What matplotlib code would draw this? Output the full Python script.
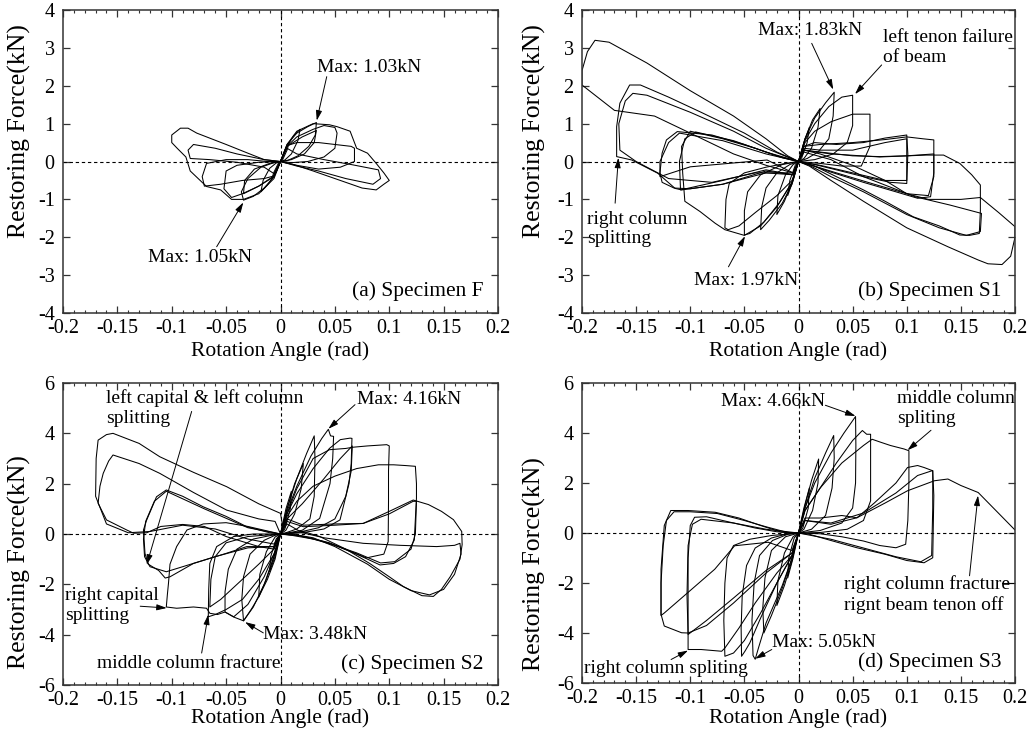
import matplotlib.pyplot as plt
from matplotlib.ticker import MultipleLocator, FuncFormatter

plt.rcParams['font.family'] = ['Liberation Serif', 'DejaVu Serif']
plt.rcParams['axes.unicode_minus'] = False

# ------------------------------------------------
# hysteresis loops: (rotation angle rad, restoring force kN)
# ------------------------------------------------
loops_F = [
    [(0, 0), (0.004, 0.3), (0.008, 0.5), (0.006, 0.3), (0.002, 0.05), (0, 0), (-0.004, -0.28), (-0.008, -0.45), (-0.006, -0.28), (-0.002, -0.05), (0, 0)],
    [(0, 0), (0.006, 0.4), (0.012, 0.68), (0.018, 0.85), (0.016, 0.55), (0.01, 0.2), (0.004, 0.04), (0, 0), (-0.006, -0.38), (-0.012, -0.62), (-0.018, -0.8), (-0.016, -0.5), (-0.01, -0.18), (-0.004, -0.04), (0, 0)],
    [(0, 0), (0.006, 0.45), (0.015, 0.75), (0.025, 0.92), (0.033, 1.03), (0.032, 0.7), (0.026, 0.4), (0.016, 0.15), (0.006, 0.02), (0, 0), (-0.006, -0.4), (-0.015, -0.7), (-0.025, -0.92), (-0.034, -1.02), (-0.036, -0.8), (-0.03, -0.45), (-0.018, -0.15), (-0.006, -0.03), (0, 0)],
    [(0, 0), (0.006, 0.4), (0.02, 0.65), (0.033, 0.82), (0.031, 0.5), (0.022, 0.2), (0.01, 0.05), (0, 0), (-0.006, -0.4), (-0.02, -0.65), (-0.034, -0.85), (-0.033, -0.5), (-0.024, -0.2), (-0.01, -0.05), (0, 0)],
    [(0, 0), (0.006, 0.4), (0.015, 0.65), (0.03, 0.85), (0.04, 0.95), (0.05, 0.9), (0.052, 0.75), (0.05, 0.35), (0.04, 0.12), (0.025, 0.0), (0.01, -0.03), (0, 0), (-0.006, -0.38), (-0.02, -0.65), (-0.035, -0.85), (-0.045, -0.95), (-0.052, -0.72), (-0.05, -0.25), (-0.04, -0.1), (-0.02, -0.02), (0, 0)],
    [(0, 0), (0.006, 0.42), (0.015, 0.5), (0.035, 0.5), (0.05, 0.45), (0.065, 0.4), (0.068, 0.35), (0.068, 0.0), (0.055, -0.15), (0.035, -0.2), (0.015, -0.1), (0, 0), (-0.006, -0.38), (-0.015, -0.45), (-0.035, -0.5), (-0.055, -0.6), (-0.07, -0.65), (-0.072, -0.4), (-0.068, -0.05), (-0.05, 0.05), (-0.03, 0.05), (-0.012, 0.0), (0, 0)],
    [(0, 0), (0.006, 0.35), (0.015, 0.2), (0.04, 0.05), (0.065, -0.08), (0.09, -0.22), (0.092, -0.45), (0.085, -0.6), (0.06, -0.45), (0.035, -0.25), (0.015, -0.12), (0, 0), (-0.006, -0.32), (-0.015, -0.15), (-0.04, -0.02), (-0.065, 0.05), (-0.083, 0.08), (-0.085, 0.3), (-0.08, 0.45), (-0.06, 0.35), (-0.04, 0.2), (-0.015, 0.05), (0, 0)],
    [(0, 0), (0.006, 0.45), (0.015, 0.8), (0.03, 1.0), (0.045, 0.97), (0.052, 0.92), (0.064, 0.8), (0.068, 0.5), (0.07, 0.35), (0.08, 0.22), (0.088, -0.05), (0.095, -0.3), (0.1, -0.5), (0.095, -0.6), (0.088, -0.75), (0.075, -0.7), (0.055, -0.5), (0.03, -0.25), (0.012, -0.08), (0, 0), (-0.006, -0.45), (-0.02, -0.85), (-0.034, -1.0), (-0.045, -1.0), (-0.055, -0.75), (-0.068, -0.66), (-0.083, -0.25), (-0.087, 0.12), (-0.095, 0.35), (-0.1, 0.5), (-0.1, 0.7), (-0.092, 0.88), (-0.085, 0.88), (-0.077, 0.75), (-0.05, 0.45), (-0.03, 0.22), (-0.015, 0.05), (0, 0)],
]

loops_S1 = [
    [(0, 0), (0.005, 0.5), (0.01, 0.9), (0.008, 0.5), (0.003, 0.1), (0, 0), (-0.005, -0.5), (-0.01, -0.9), (-0.008, -0.5), (-0.003, -0.1), (0, 0)],
    [(0, 0), (0.006, 0.6), (0.013, 1.1), (0.02, 1.4), (0.018, 0.9), (0.012, 0.35), (0.005, 0.08), (0, 0), (-0.006, -0.55), (-0.013, -1.05), (-0.02, -1.4), (-0.019, -0.9), (-0.012, -0.35), (-0.005, -0.08), (0, 0)],
    [(0, 0), (0.006, 0.6), (0.015, 1.15), (0.025, 1.55), (0.033, 1.83), (0.032, 1.2), (0.028, 0.6), (0.018, 0.25), (0.008, 0.08), (0, 0), (-0.006, -0.6), (-0.015, -1.1), (-0.027, -1.55), (-0.035, -1.8), (-0.034, -1.2), (-0.03, -0.7), (-0.02, -0.3), (-0.008, -0.08), (0, 0)],
    [(0, 0), (0.006, 0.55), (0.015, 1.0), (0.028, 1.45), (0.04, 1.7), (0.05, 1.75), (0.05, 0.95), (0.045, 0.5), (0.032, 0.2), (0.015, 0.05), (0, 0), (-0.006, -0.55), (-0.018, -1.1), (-0.032, -1.6), (-0.045, -1.9), (-0.05, -1.94), (-0.05, -1.3), (-0.047, -0.8), (-0.035, -0.35), (-0.015, -0.08), (0, 0)],
    [(0, 0), (0.006, 0.5), (0.015, 0.8), (0.03, 1.05), (0.05, 1.25), (0.066, 1.25), (0.066, 0.4), (0.058, -0.12), (0.04, -0.12), (0.02, -0.05), (0, 0), (-0.006, -0.5), (-0.02, -0.9), (-0.04, -1.35), (-0.055, -1.7), (-0.065, -1.8), (-0.068, -1.75), (-0.067, -1.0), (-0.064, -0.58), (-0.05, -0.3), (-0.03, -0.15), (-0.012, -0.05), (0, 0)],
    [(0, 0), (0.005, 0.4), (0.015, 0.5), (0.035, 0.45), (0.06, 0.5), (0.08, 0.62), (0.1, 0.7), (0.101, 0.2), (0.1, -0.58), (0.085, -0.55), (0.06, -0.4), (0.035, -0.22), (0.015, -0.08), (0, 0), (-0.006, -0.55), (-0.02, -1.2), (-0.035, -1.7), (-0.05, -1.95), (-0.068, -1.8), (-0.077, -1.63), (-0.091, -1.32), (-0.105, -1.05), (-0.107, -0.3), (-0.108, 0.4), (-0.1, 0.8), (-0.07, 0.6), (-0.04, 0.35), (-0.015, 0.1), (0, 0)],
    [(0, 0), (0.005, 0.35), (0.02, 0.3), (0.05, 0.3), (0.08, 0.5), (0.1, 0.6), (0.1, -0.5), (0.08, -0.5), (0.05, -0.3), (0.02, -0.1), (0, 0), (-0.005, -0.35), (-0.03, -0.22), (-0.07, -0.5), (-0.109, -0.75), (-0.11, 0.0), (-0.105, 0.6), (-0.095, 0.78), (-0.06, 0.55), (-0.03, 0.25), (0, 0)],
    [(0, 0), (0.005, 0.4), (0.02, 0.45), (0.05, 0.5), (0.08, 0.58), (0.1, 0.65), (0.115, 0.6), (0.125, 0.57), (0.125, -0.3), (0.122, -0.93), (0.11, -0.97), (0.09, -0.8), (0.06, -0.55), (0.03, -0.28), (0.01, -0.08), (0, 0), (-0.005, -0.35), (-0.03, -0.25), (-0.07, -0.6), (-0.1, -0.72), (-0.115, -0.7), (-0.126, -0.55), (-0.128, -0.3), (-0.126, 0.22), (-0.122, 0.57), (-0.112, 0.79), (-0.08, 0.7), (-0.05, 0.45), (-0.02, 0.15), (0, 0)],
    [(0, 0), (0.005, 0.3), (0.02, 0.25), (0.05, 0.15), (0.075, 0.13), (0.1, 0.15), (0.125, 0.2), (0.125, -0.4), (0.12, -0.9), (0.1, -0.85), (0.07, -0.6), (0.035, -0.3), (0.01, -0.08), (0, 0), (-0.005, -0.3), (-0.029, 0.04), (-0.1, -0.14), (-0.128, -0.4), (-0.128, 0.0), (-0.12, 0.5), (-0.11, 0.75), (-0.07, 0.55), (-0.03, 0.2), (0, 0)],
    [(0, 0), (0.005, 0.3), (0.03, 0.2), (0.075, 0.12), (0.118, 0.17), (0.134, 0.17), (0.149, -0.05), (0.16, -0.35), (0.168, -0.62), (0.168, -1.3), (0.167, -1.9), (0.158, -1.95), (0.149, -1.94), (0.13, -1.7), (0.106, -1.46), (0.08, -1.05), (0.06, -0.75), (0.035, -0.4), (0.015, -0.12), (0, 0), (-0.005, -0.35), (-0.03, -0.3), (-0.07, -0.6), (-0.108, -0.75), (-0.114, -0.71), (-0.13, -0.31), (-0.154, 0.04), (-0.168, 0.13), (-0.168, 0.92), (-0.165, 1.54), (-0.156, 2.02), (-0.146, 2.02), (-0.12, 1.7), (-0.09, 1.3), (-0.05, 0.75), (-0.02, 0.25), (0, 0)],
    [(0, 0), (0.005, 0.3), (0.02, 0.2), (0.05, -0.1), (0.08, -0.5), (0.1, -0.85), (0.12, -1.0), (0.15, -1.0), (0.168, -0.95), (0.185, -1.35), (0.2, -1.72), (0.2, -2.0), (0.196, -2.5), (0.188, -2.72), (0.175, -2.7), (0.166, -2.6), (0.138, -2.25), (0.1, -1.75), (0.06, -1.05), (0.03, -0.5), (0.01, -0.12), (0, 0), (-0.005, -0.3), (-0.03, -0.1), (-0.06, 0.2), (-0.1, 0.75), (-0.133, 1.2), (-0.17, 1.35), (-0.2, 2.02), (-0.2, 2.4), (-0.195, 2.9), (-0.188, 3.2), (-0.175, 3.15), (-0.14, 2.6), (-0.1, 1.87), (-0.06, 1.2), (-0.03, 0.6), (-0.01, 0.15), (0, 0)],
    [(0, 0), (0.005, 0.25), (0.03, 0.05), (0.06, -0.4), (0.1076, -0.93), (0.14, -1.15), (0.169, -1.37), (0.168, -1.85), (0.155, -1.95), (0.13, -1.75), (0.1, -1.4), (0.06, -0.8), (0.03, -0.4), (0.01, -0.1), (0, 0), (-0.005, -0.3), (-0.04, -0.3), (-0.08, -0.55), (-0.12, -0.45), (-0.15, 0.0), (-0.165, 0.3), (-0.166, 1.0), (-0.16, 1.6), (-0.153, 1.8), (-0.14, 1.75), (-0.1, 1.3), (-0.06, 0.8), (-0.03, 0.35), (0, 0)],
]

loops_S2 = [
    [(0, 0), (0.005, 1.0), (0.01, 1.7), (0.009, 1.0), (0.004, 0.2), (0, 0), (-0.005, -0.9), (-0.01, -1.5), (-0.009, -0.9), (-0.004, -0.2), (0, 0)],
    [(0, 0), (0.006, 1.0), (0.013, 2.0), (0.021, 2.8), (0.019, 1.8), (0.013, 0.8), (0.005, 0.15), (0, 0), (-0.006, -0.9), (-0.013, -1.8), (-0.02, -2.5), (-0.019, -1.6), (-0.013, -0.7), (-0.005, -0.12), (0, 0)],
    [(0, 0), (0.006, 1.0), (0.015, 2.2), (0.024, 3.2), (0.031, 3.9), (0.0317, 3.0), (0.031, 1.5), (0.027, 0.6), (0.015, 0.2), (0.005, 0.05), (0, 0), (-0.006, -0.9), (-0.015, -2.0), (-0.025, -2.9), (-0.034, -3.45), (-0.0356, -2.6), (-0.034, -1.7), (-0.028, -0.8), (-0.015, -0.25), (-0.005, -0.05), (0, 0)],
    [(0, 0), (0.006, 0.9), (0.015, 1.9), (0.028, 3.1), (0.038, 3.8), (0.044, 4.16), (0.046, 3.9), (0.0488, 3.88), (0.048, 3.0), (0.0455, 2.0), (0.036, 0.62), (0.02, 0.15), (0.005, 0.03), (0, 0), (-0.006, -0.8), (-0.015, -1.7), (-0.03, -2.8), (-0.043, -3.29), (-0.051, -3.1), (-0.051, -2.3), (-0.048, -1.4), (-0.04, -0.6), (-0.025, -0.2), (-0.008, -0.05), (0, 0)],
    [(0, 0), (0.006, 0.8), (0.015, 1.6), (0.03, 2.6), (0.045, 3.4), (0.055, 3.75), (0.064, 3.81), (0.0657, 3.8), (0.065, 2.8), (0.063, 2.0), (0.0547, 0.56), (0.04, 0.2), (0.02, 0.05), (0, 0), (-0.006, -0.8), (-0.02, -1.8), (-0.035, -2.6), (-0.05, -3.0), (-0.06, -3.2), (-0.0664, -3.29), (-0.066, -2.2), (-0.065, -1.17), (-0.0587, -0.5), (-0.043, -0.1), (-0.025, 0.0), (-0.01, 0.0), (0, 0)],
    [(0, 0), (0.006, 0.6), (0.02, 1.2), (0.04, 2.2), (0.055, 3.0), (0.066, 3.5), (0.065, 2.5), (0.06, 1.5), (0.05, 0.6), (0.035, 0.25), (0.015, 0.05), (0, 0), (-0.006, -0.6), (-0.02, -1.2), (-0.04, -2.0), (-0.055, -2.6), (-0.065, -2.9), (-0.064, -1.8), (-0.06, -0.9), (-0.05, -0.35), (-0.03, -0.1), (0, 0)],
    [(0, 0), (0.006, 0.8), (0.015, 1.8), (0.03, 3.0), (0.045, 3.35), (0.06, 3.4), (0.067, 3.45), (0.08, 3.5), (0.0977, 3.55), (0.1, 3.5), (0.0993, 2.5), (0.0993, 1.3), (0.099, -0.3), (0.095, -0.8), (0.079, -0.95), (0.065, -0.7), (0.045, -0.35), (0.02, -0.08), (0, 0), (-0.005, -1.0), (-0.012, -1.8), (-0.02, -2.5), (-0.027, -3.0), (-0.034, -3.45), (-0.043, -3.3), (-0.051, -3.1), (-0.058, -3.2), (-0.065, -3.15), (-0.068, -2.95), (-0.08, -2.9), (-0.0955, -2.95), (-0.105, -2.9), (-0.104, -2.4), (-0.103, -1.96), (-0.1016, -1.2), (-0.0955, -0.5), (-0.086, 0.16), (-0.071, 0.4), (-0.05, 0.45), (-0.03, 0.3), (-0.01, 0.1), (0, 0)],
    [(0, 0), (0.006, 0.7), (0.015, 1.3), (0.03, 1.9), (0.05, 2.3), (0.07, 2.6), (0.09, 2.75), (0.104, 2.75), (0.115, 2.72), (0.124, 2.69), (0.125, 2.0), (0.125, 1.43), (0.123, -0.24), (0.115, -0.9), (0.104, -1.17), (0.0915, -1.23), (0.07, -0.8), (0.05, -0.45), (0.03, -0.2), (0.01, -0.05), (0, 0), (-0.006, -0.5), (-0.031, -0.5), (-0.05, -0.77), (-0.08, -1.17), (-0.1016, -1.7), (-0.106, -1.75), (-0.112, -1.45), (-0.1216, -1.2), (-0.1246, -0.77), (-0.126, 0.16), (-0.123, 0.56), (-0.114, 1.48), (-0.105, 1.75), (-0.09, 1.5), (-0.071, 1.08), (-0.05, 0.7), (-0.031, 0.29), (-0.01, 0.05), (0, 0)],
    [(0, 0), (0.006, 0.5), (0.021, 0.29), (0.05, 0.35), (0.076, 0.42), (0.1, 0.8), (0.122, 1.3), (0.125, 1.3), (0.124, 0.0), (0.12, -0.6), (0.105, -1.1), (0.092, -1.15), (0.07, -0.75), (0.04, -0.3), (0.015, -0.05), (0, 0), (-0.006, -0.5), (-0.03, -0.55), (-0.06, -0.9), (-0.09, -1.3), (-0.105, -1.5), (-0.12, -1.3), (-0.125, -0.9), (-0.126, -0.2), (-0.124, 0.5), (-0.116, 1.3), (-0.105, 1.7), (-0.07, 1.0), (-0.03, 0.25), (0, 0)],
    [(0, 0), (0.006, 0.6), (0.021, 0.35), (0.05, 0.4), (0.076, 0.42), (0.1, 0.9), (0.122, 1.35), (0.136, 1.17), (0.148, 0.9), (0.159, 0.57), (0.1666, 0.1), (0.167, -0.42), (0.165, -1.0), (0.156, -1.7), (0.148, -2.2), (0.1405, -2.48), (0.13, -2.45), (0.113, -2.09), (0.1, -1.7), (0.082, -1.17), (0.06, -0.6), (0.036, -0.1), (0.021, 0.1), (0, 0), (-0.006, -0.6), (-0.02, -0.5), (-0.05, -0.1), (-0.07, 0.3), (-0.09, 0.38), (-0.11, 0.3), (-0.123, 0.05), (-0.135, 0.03), (-0.1414, 0.16), (-0.16, 0.56), (-0.1677, 1.22), (-0.166, 1.9), (-0.163, 2.41), (-0.158, 2.9), (-0.154, 3.14), (-0.13, 2.8), (-0.111, 2.41), (-0.08, 1.65), (-0.0495, 0.95), (-0.02, 0.6), (-0.005, 0.5), (0, 0)],
    [(0, 0), (0.006, 0.4), (0.02, 0.05), (0.04, -0.15), (0.076, -0.37), (0.11, -0.45), (0.1436, -0.5), (0.16, -0.45), (0.165, -0.37), (0.166, -0.8), (0.16, -1.6), (0.15, -2.2), (0.137, -2.42), (0.12, -2.25), (0.1, -1.8), (0.08, -1.2), (0.05, -0.5), (0.03, -0.15), (0.01, 0.0), (0, 0), (-0.006, -0.4), (-0.03, -0.2), (-0.06, 0.2), (-0.09, 0.35), (-0.12, 0.1), (-0.14, 0.05), (-0.16, 0.4), (-0.17, 1.5), (-0.1695, 3.0), (-0.1677, 3.73), (-0.16, 3.95), (-0.154, 4.0), (-0.13, 3.6), (-0.111, 3.07), (-0.08, 2.45), (-0.0495, 1.88), (-0.02, 1.2), (0, 0.82), (0.002, 0.3), (0, 0)],
]

loops_S3 = [
    [(0, 0), (0.005, 1.0), (0.01, 1.8), (0.009, 1.0), (0.004, 0.2), (0, 0), (-0.005, -1.0), (-0.01, -1.8), (-0.009, -1.0), (-0.004, -0.2), (0, 0)],
    [(0, 0), (0.006, 1.1), (0.012, 2.1), (0.0186, 2.96), (0.018, 2.0), (0.013, 0.9), (0.005, 0.15), (0, 0), (-0.006, -1.1), (-0.013, -2.1), (-0.02, -2.9), (-0.019, -1.9), (-0.013, -0.8), (-0.005, -0.15), (0, 0)],
    [(0, 0), (0.006, 1.0), (0.015, 2.2), (0.025, 3.2), (0.0325, 3.9), (0.033, 3.0), (0.031, 1.8), (0.025, 0.7), (0.012, 0.15), (0, 0), (-0.006, -1.0), (-0.015, -2.2), (-0.025, -3.3), (-0.032, -4.0), (-0.033, -3.0), (-0.031, -1.8), (-0.025, -0.7), (-0.012, -0.15), (0, 0)],
    [(0, 0), (0.006, 1.0), (0.015, 2.0), (0.03, 3.2), (0.042, 4.0), (0.0527, 4.66), (0.053, 3.5), (0.0527, 2.0), (0.05, 1.0), (0.04, 0.4), (0.02, 0.1), (0, 0), (-0.006, -1.0), (-0.015, -2.1), (-0.03, -3.6), (-0.037, -4.6), (-0.04, -5.05), (-0.042, -4.9), (-0.043, -3.5), (-0.041, -2.0), (-0.036, -0.9), (-0.024, -0.3), (-0.01, -0.05), (0, 0)],
    [(0, 0), (0.006, 0.9), (0.02, 1.8), (0.035, 2.8), (0.05, 3.7), (0.059, 4.1), (0.063, 3.95), (0.0666, 3.95), (0.0666, 2.5), (0.0666, 1.29), (0.06, 0.5), (0.045, 0.15), (0.02, 0.02), (0, 0), (-0.006, -0.9), (-0.02, -2.0), (-0.035, -3.4), (-0.045, -4.4), (-0.0495, -4.73), (-0.0526, -4.93), (-0.053, -3.8), (-0.052, -2.5), (-0.048, -1.3), (-0.04, -0.6), (-0.025, -0.2), (-0.01, -0.03), (0, 0)],
    [(0, 0), (0.006, 0.9), (0.02, 1.8), (0.04, 2.8), (0.06, 3.5), (0.068, 3.75), (0.076, 3.63), (0.085, 3.5), (0.0976, 3.36), (0.102, 3.29), (0.102, 2.0), (0.101, 0.5), (0.099, -0.45), (0.09, -0.59), (0.075, -0.5), (0.06, -0.32), (0.04, -0.15), (0.02, -0.03), (0, 0), (-0.006, -0.9), (-0.02, -2.0), (-0.035, -3.2), (-0.05, -4.3), (-0.06, -4.8), (-0.068, -4.93), (-0.069, -3.5), (-0.068, -2.0), (-0.066, -1.0), (-0.06, -0.5), (-0.045, -0.25), (-0.025, -0.1), (0, 0)],
    [(0, 0), (0.006, 0.6), (0.02, 0.6), (0.04, 0.7), (0.054, 0.61), (0.07, 1.2), (0.09, 2.0), (0.1007, 2.62), (0.11, 2.7), (0.116, 2.62), (0.124, 2.49), (0.125, 1.5), (0.124, -0.99), (0.116, -1.19), (0.1, -1.1), (0.08, -0.85), (0.054, -0.59), (0.03, -0.3), (0.01, -0.05), (0, 0), (-0.006, -0.9), (-0.02, -1.6), (-0.04, -2.8), (-0.055, -3.8), (-0.068, -4.6), (-0.071, -4.73), (-0.09, -4.66), (-0.102, -4.66), (-0.102, -3.0), (-0.102, -1.0), (-0.1, 0.3), (-0.096, 0.63), (-0.085, 0.65), (-0.065, 0.45), (-0.04, 0.2), (-0.02, 0.05), (0, 0)],
    [(0, 0), (0.006, 0.5), (0.03, 0.4), (0.06, 0.8), (0.09, 1.6), (0.11, 2.3), (0.124, 2.5), (0.124, 1.0), (0.123, -0.9), (0.113, -1.15), (0.09, -0.95), (0.06, -0.6), (0.03, -0.25), (0, 0), (-0.006, -0.8), (-0.03, -1.5), (-0.06, -2.6), (-0.085, -3.5), (-0.102, -4.06), (-0.103, -2.5), (-0.102, -0.5), (-0.098, 0.35), (-0.09, 0.55), (-0.06, 0.4), (-0.03, 0.15), (0, 0)],
    [(0, 0), (-0.006, -0.8), (-0.03, -1.6), (-0.06, -2.8), (-0.085, -3.7), (-0.102, -4.0), (-0.108, -3.99), (-0.124, -3.72), (-0.127, -3.25), (-0.127, -1.45), (-0.124, 0.3), (-0.118, 0.9), (-0.102, 0.9), (-0.077, 0.83), (-0.055, 0.6), (-0.035, 0.3), (-0.0154, 0.03), (0, 0), (0.006, 0.5), (0.03, 0.35), (0.054, 0.61), (0.08, 1.2), (0.1007, 1.69), (0.1255, 2.09), (0.138, 2.16), (0.15, 1.9), (0.166, 1.62), (0.2, 0.12)],
    [(0, 0), (-0.006, -0.7), (-0.028, -0.37), (-0.059, -0.51), (-0.0774, -1.45), (-0.1, -2.3), (-0.124, -3.2), (-0.127, -3.3), (-0.127, -2.0), (-0.125, -0.5), (-0.122, 0.5), (-0.115, 0.85), (-0.1, 0.85), (-0.075, 0.78), (-0.05, 0.5), (-0.03, 0.25), (-0.01, 0.02), (0, 0)],
]

panel_loops = [loops_F, loops_S1, loops_S2, loops_S3]
panel_names = ['(a) Specimen F', '(b) Specimen S1', '(c) Specimen S2', '(d) Specimen S3']
panel_ylim = [4, 4, 6, 6]
panel_ystep = [1, 1, 2, 2]

# annotations: text, text anchor (left, centre), arrow tail, arrow tip
notes_F = [
    ('Max: 1.03kN', (0.0333, 2.49), (0.0425, 2.24), (0.0333, 1.08)),
    ('Max: 1.05kN', (-0.1216, -2.53), (-0.0587, -2.25), (-0.0342, -1.08)),
]
notes_S1 = [
    ('Max: 1.83kN', (-0.037, 3.45), (0.0122, 3.12), (0.0321, 1.9)),
    ('left tenon failure\nof beam', (0.0783, 3.01), (0.0768, 2.55), (0.0522, 1.78)),
    ('right column\nsplitting', (-0.1956, -1.78), (-0.1694, -1.1), (-0.1664, 0.1)),
    ('Max: 1.97kN', (-0.097, -3.13), (-0.0647, -2.78), (-0.0494, -1.97)),
]
notes_S2 = [
    ('left capital & left column\nsplitting', (-0.1605, 5.0), (-0.0817, 4.87), (-0.123, -1.22)),
    ('Max: 4.16kN', (0.07, 5.34), (0.0685, 5.14), (0.044, 4.18)),
    ('right capital\nsplitting', (-0.1982, -2.84), (-0.129, -2.87), (-0.1046, -2.94)),
    ('middle column fracture', (-0.169, -5.13), (-0.0725, -4.73), (-0.0664, -3.2)),
    ('Max: 3.48kN', (-0.0158, -4.0), (-0.0158, -3.93), (-0.0326, -3.5)),
]
notes_S3 = [
    ('Max: 4.66kN', (-0.0712, 5.25), (0.0248, 5.11), (0.0527, 4.68)),
    ('middle column\nspliting', (0.0914, 4.98), (0.1224, 4.11), (0.1007, 3.31)),
    ('right column fracture\nrignt beam tenon off', (0.0418, -2.45), (0.158, -1.71), (0.1658, 1.5)),
    ('right column spliting', (-0.198, -5.4), (-0.1177, -5.06), (-0.102, -4.7)),
    ('Max: 5.05kN', (-0.0247, -4.39), (-0.0247, -4.66), (-0.040, -5.03)),
]
panel_notes = [notes_F, notes_S1, notes_S2, notes_S3]

# ------------------------------------------------
# figure
# ------------------------------------------------
fig = plt.figure(figsize=(10.29, 7.36), dpi=100)
rects = [
    [0.0612, 0.5747, 0.4228, 0.4117],
    [0.5656, 0.5747, 0.4208, 0.4117],
    [0.0612, 0.0693, 0.4228, 0.4103],
    [0.5656, 0.0720, 0.4208, 0.4076],
]
ylab_y = [0.602, 0.602, 0.407, 0.395]
ylab_x = [-0.074, -0.083, -0.074, -0.083]
xlab_y = [-0.094, -0.094, -0.076, -0.084]

fmt = FuncFormatter(lambda v, p: f'{round(v, 3) + 0.0:g}')
dash = (0, (3, 2.5))

for i in range(4):
    ax = fig.add_axes(rects[i])
    for loop in panel_loops[i]:
        xs, ys = zip(*loop)
        ax.plot(xs, ys, color='black', lw=0.75, solid_joinstyle='round')
    ax.axhline(0, color='black', lw=0.8, ls=dash)
    ax.axvline(0, color='black', lw=0.8, ls=dash)

    lim = panel_ylim[i]
    ax.set_xlim(-0.2, 0.2)
    ax.set_ylim(-lim, lim)
    ax.xaxis.set_major_locator(MultipleLocator(0.05))
    ax.xaxis.set_minor_locator(MultipleLocator(0.01))
    ax.yaxis.set_major_locator(MultipleLocator(panel_ystep[i]))
    ax.xaxis.set_major_formatter(fmt)
    ax.yaxis.set_major_formatter(fmt)
    ax.tick_params(which='both', direction='in', top=True, right=True, color='#333333')
    ax.tick_params(which='major', length=5, width=0.9, labelsize=14.5, pad=4)
    ax.tick_params(axis='y', which='major', pad=6)
    ax.tick_params(which='minor', length=2.5, width=0.8)
    for s in ax.spines.values():
        s.set_color('#333333')
        s.set_linewidth(1.1)

    ax.set_xlabel('Rotation Angle (rad)', fontsize=15.5)
    ax.set_ylabel('Restoring Force(kN)', fontsize=18.5)
    ax.xaxis.set_label_coords(0.5, xlab_y[i])
    ax.yaxis.set_label_coords(ylab_x[i], ylab_y[i])

    ax.text(0.1875 if i % 2 else 0.1865, -lim * 0.857 if i < 2 else -lim * 0.86,
            panel_names[i], ha='right', va='center', fontsize=15.5)

    for txt, pos, tail, tip in panel_notes[i]:
        ax.text(pos[0], pos[1], txt, ha='left', va='center', fontsize=14, linespacing=1.2)
        ax.annotate('', xy=tip, xytext=tail,
                    arrowprops=dict(arrowstyle='-|>,head_length=0.6,head_width=0.18',
                                    color='black', lw=0.7, mutation_scale=10,
                                    shrinkA=0, shrinkB=0))
    if i == 3:
        # leader stub after "fracture"
        ax.plot([0.188, 0.2], [-1.98, -1.98], color='black', lw=0.7)

fig.savefig('out.png', dpi=100)
